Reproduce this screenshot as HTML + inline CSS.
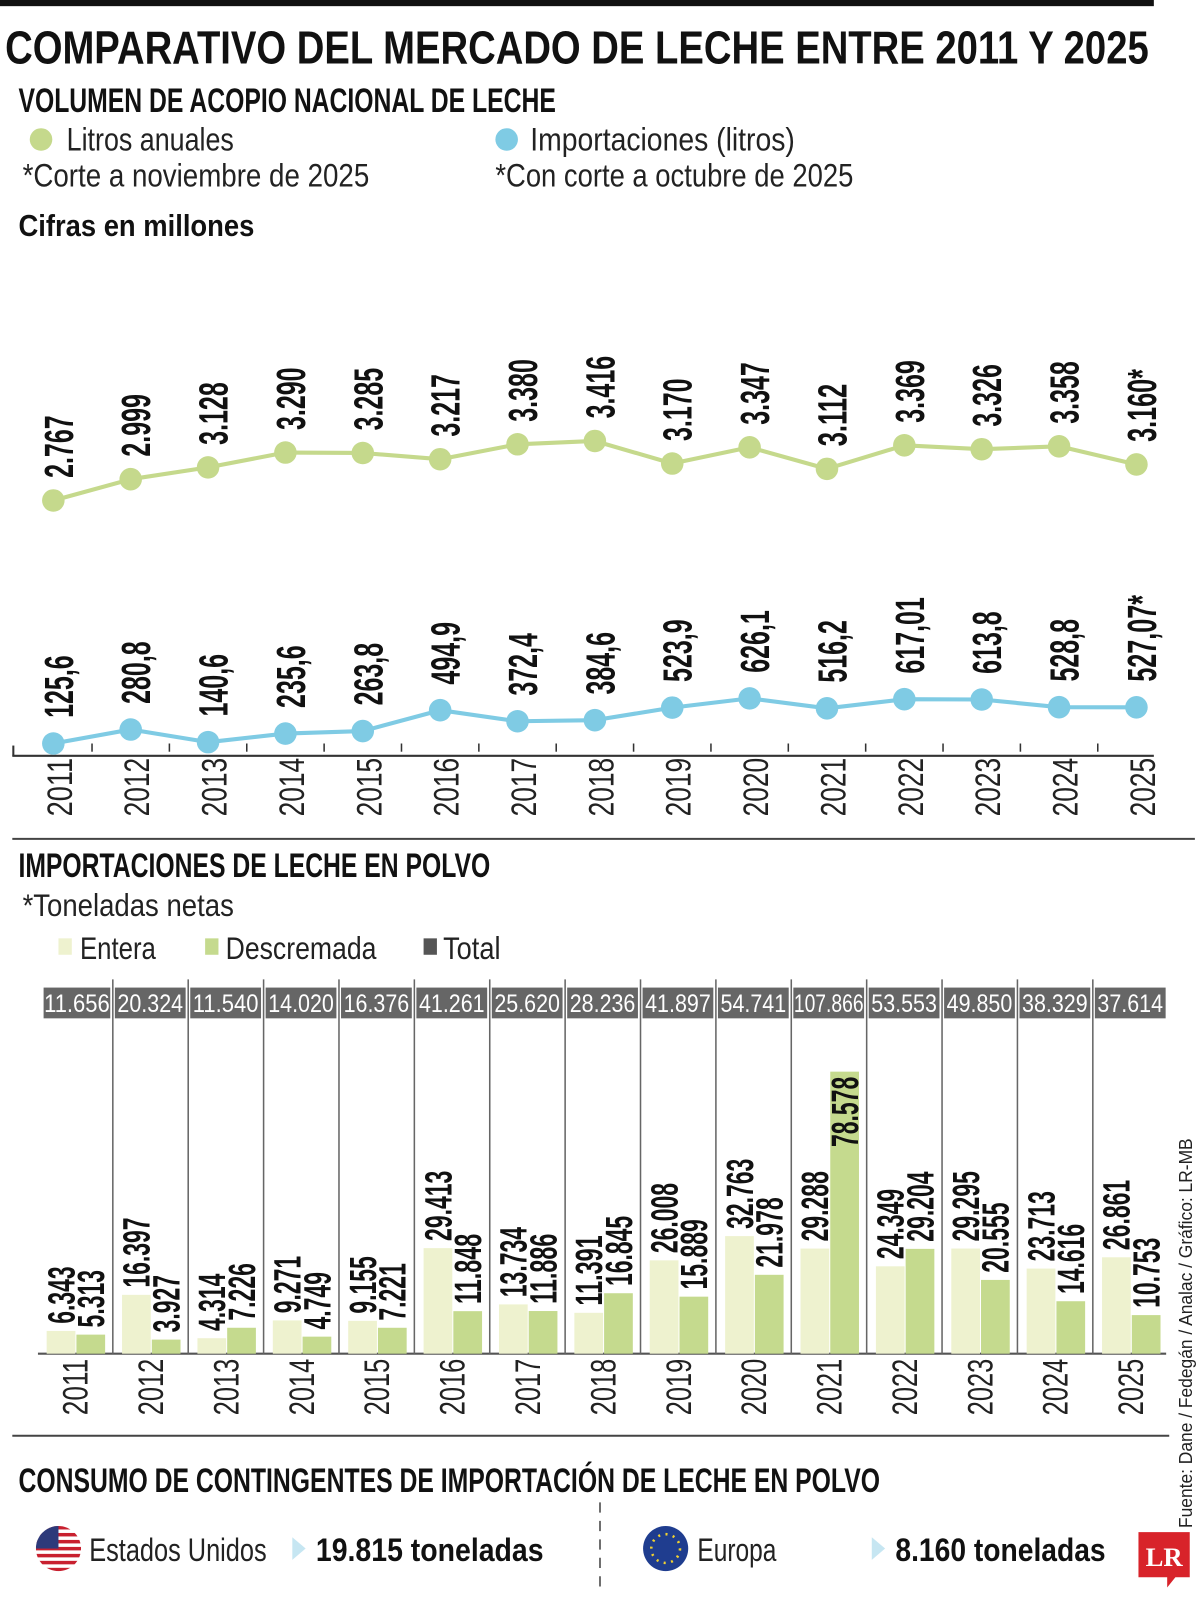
<!DOCTYPE html>
<html><head><meta charset="utf-8"><style>
html,body{margin:0;padding:0;background:#fff;}
svg{display:block;font-family:"Liberation Sans",sans-serif;}
</style></head><body>
<svg id="chart" width="1200" height="1607" viewBox="0 0 1170 1567" preserveAspectRatio="none" xmlns="http://www.w3.org/2000/svg">
<rect x="0" y="0" width="1125" height="6" fill="#111"/>
<text x="5" y="62" font-size="45" font-weight="bold" textLength="1115" lengthAdjust="spacingAndGlyphs" fill="#111">COMPARATIVO DEL MERCADO DE LECHE ENTRE 2011 Y 2025</text>
<text x="18" y="109" font-size="33" font-weight="bold" textLength="524" lengthAdjust="spacingAndGlyphs" fill="#111">VOLUMEN DE ACOPIO NACIONAL DE LECHE</text>
<circle cx="40" cy="136" r="11" fill="#c5d98c"/>
<text x="65" y="147" font-size="32" textLength="163" lengthAdjust="spacingAndGlyphs" fill="#222">Litros anuales</text>
<text x="22" y="182" font-size="32" textLength="338" lengthAdjust="spacingAndGlyphs" fill="#222">*Corte a noviembre de 2025</text>
<circle cx="494" cy="136" r="11" fill="#7fcbe4"/>
<text x="517" y="147" font-size="32" textLength="258" lengthAdjust="spacingAndGlyphs" fill="#222">Importaciones (litros)</text>
<text x="483" y="182" font-size="32" textLength="349" lengthAdjust="spacingAndGlyphs" fill="#222">*Con corte a octubre de 2025</text>
<text x="18" y="230" font-size="30" font-weight="bold" textLength="230" lengthAdjust="spacingAndGlyphs" fill="#111">Cifras en millones</text>
<g id="lineChart"></g>
<line x1="12" y1="818" x2="1165" y2="818" stroke="#444" stroke-width="2"/>
<text x="18" y="855" font-size="33" font-weight="bold" textLength="460" lengthAdjust="spacingAndGlyphs" fill="#111">IMPORTACIONES DE LECHE EN POLVO</text>
<text x="22" y="893" font-size="31" textLength="206" lengthAdjust="spacingAndGlyphs" fill="#222">*Toneladas netas</text>
<rect x="57" y="915" width="13" height="16" fill="#eef2cf"/>
<text x="78" y="935" font-size="31" textLength="74" lengthAdjust="spacingAndGlyphs" fill="#222">Entera</text>
<rect x="200" y="915" width="13" height="16" fill="#c5da8e"/>
<text x="220" y="935" font-size="31" textLength="147" lengthAdjust="spacingAndGlyphs" fill="#222">Descremada</text>
<rect x="413" y="915" width="13" height="16" fill="#555"/>
<text x="432" y="935" font-size="31" textLength="56" lengthAdjust="spacingAndGlyphs" fill="#222">Total</text>
<g id="barChart"></g>
<line x1="12" y1="1400" x2="1140" y2="1400" stroke="#444" stroke-width="2"/>
<text x="18" y="1455" font-size="33" font-weight="bold" textLength="840" lengthAdjust="spacingAndGlyphs" fill="#111">CONSUMO DE CONTINGENTES DE IMPORTACIÓN DE LECHE EN POLVO</text>
<g>
<clipPath id="usc"><circle cx="57" cy="1510" r="22"/></clipPath>
<g clip-path="url(#usc)">
<rect x="35" y="1488" width="44" height="44" fill="#fff"/>
<rect x="35" y="1488" width="44" height="3.4" fill="#c8202f"/><rect x="35" y="1494.8" width="44" height="3.4" fill="#c8202f"/><rect x="35" y="1501.6" width="44" height="3.4" fill="#c8202f"/><rect x="35" y="1508.4" width="44" height="3.4" fill="#c8202f"/><rect x="35" y="1515.2" width="44" height="3.4" fill="#c8202f"/><rect x="35" y="1522" width="44" height="3.4" fill="#c8202f"/><rect x="35" y="1528.8" width="44" height="3.4" fill="#c8202f"/>
<rect x="35" y="1488" width="22" height="22" fill="#2d3a7a"/>
</g></g>
<text x="87" y="1522" font-size="32" textLength="173" lengthAdjust="spacingAndGlyphs" fill="#222">Estados Unidos</text>
<polygon points="285,1499 298,1510 285,1521" fill="#c6e6f2"/>
<text x="308" y="1522" font-size="32" font-weight="bold" textLength="222" lengthAdjust="spacingAndGlyphs" fill="#111">19.815 toneladas</text>
<line x1="585" y1="1465" x2="585" y2="1555" stroke="#444" stroke-width="1.5" stroke-dasharray="10,8"/>
<circle cx="649" cy="1510" r="22" fill="#1f3d8f"/>
<circle cx="649" cy="1510" r="14" fill="none" stroke="#f2d230" stroke-width="2.5" stroke-dasharray="2,5.3"/>
<text x="680" y="1522" font-size="32" textLength="77" lengthAdjust="spacingAndGlyphs" fill="#222">Europa</text>
<polygon points="850,1499 863,1510 850,1521" fill="#c6e6f2"/>
<text x="873" y="1522" font-size="32" font-weight="bold" textLength="205" lengthAdjust="spacingAndGlyphs" fill="#111">8.160 toneladas</text>
<g>
<path d="M1110 1494 h50 v44 h-14 l-8 10 v-10 h-28 z" fill="#d8232a"/>
<text x="1135" y="1527" font-family="Liberation Serif,serif" font-size="26" font-weight="bold" fill="#fff" text-anchor="middle">LR</text>
</g>
<text transform="translate(1162,1490) rotate(-90)" font-size="18" textLength="380" lengthAdjust="spacingAndGlyphs" fill="#222">Fuente: Dane / Fedegán / Analac / Gráfico: LR-MB</text>
</svg>
<script>
const years = ["2011","2012","2013","2014","2015","2016","2017","2018","2019","2020","2021","2022","2023","2024","2025"];
const litros = [2767,2999,3128,3290,3285,3217,3380,3416,3170,3347,3112,3369,3326,3358,3160];
const litrosLabels = ["2.767","2.999","3.128","3.290","3.285","3.217","3.380","3.416","3.170","3.347","3.112","3.369","3.326","3.358","3.160*"];
const importaciones = [125.6,280.8,140.6,235.6,263.8,494.9,372.4,384.6,523.9,626.1,516.2,617.01,613.8,528.8,527.07];
const importLabels = ["125,6","280,8","140,6","235,6","263,8","494,9","372,4","384,6","523,9","626,1","516,2","617,01","613,8","528,8","527,07*"];
const entera = [6343,16397,4314,9271,9155,29413,13734,11391,26008,32763,29288,24349,29295,23713,26861];
const descremada = [5313,3927,7226,4749,7221,11848,11886,16845,15889,21978,78578,29204,20555,14616,10753];
const enteraLabels = ["6.343","16.397","4.314","9.271","9.155","29.413","13.734","11.391","26.008","32.763","29.288","24.349","29.295","23.713","26.861"];
const descLabels = ["5.313","3.927","7.226","4.749","7.221","11.848","11.886","16.845","15.889","21.978","78.578","29.204","20.555","14.616","10.753"];
const totalLabels = ["11.656","20.324","11.540","14.020","16.376","41.261","25.620","28.236","41.897","54.741","107.866","53.553","49.850","38.329","37.614"];

const NS = "http://www.w3.org/2000/svg";
function mk(parent, tag, attrs, txt){const e=document.createElementNS(NS,tag);for(const k in attrs)e.setAttribute(k,attrs[k]);if(txt!==undefined)e.textContent=txt;parent.appendChild(e);return e;}
function labLen(s,d,p){let l=0;for(const c of s){l+=(c==='.'||c===',')?p:(c==='*'?10:d);}return l;}

// line chart
const lc = document.getElementById('lineChart');
const xL = i => 52 + i*75.43;
const yG = v => 430 + (3416 - v)*0.0894;
const yB = v => 725 - (v - 125.6)*0.0879;
const axis = mk(lc,'line',{x1:12,y1:737,x2:1125,y2:737,stroke:'#333','stroke-width':2});


const lt = mk(lc,'line',{x1:13,y1:737,x2:13,y2:727,stroke:'#333','stroke-width':2});


function drawSeries(vals, yf, color, labels, off, name){
  const pts = vals.map((v,i)=>xL(i)+','+yf(v)).join(' ');
  const pl = mk(lc,'polyline',{points:pts,fill:'none',stroke:color,'stroke-width':4,'stroke-linejoin':'round'});
  
  
  vals.forEach((v,i)=>{
    const c = mk(lc,'circle',{cx:xL(i),cy:yf(v),r:11,fill:color});
    
    
    const x=xL(i)+19, y=yf(v)-off;
    const t = mk(lc,'text',{transform:`translate(${x},${y}) rotate(-90)`,'font-size':40,'font-weight':'bold',fill:'#111',textLength:labLen(labels[i],13.5,7),lengthAdjust:'spacingAndGlyphs'},labels[i]);
    
    
  });
}
years.forEach((y,i)=>{
  if(i>0){const tk=mk(lc,'line',{x1:xL(i)-37.7,y1:725,x2:xL(i)-37.7,y2:733,stroke:'#333','stroke-width':1.5});
  
  }
  const t=mk(lc,'text',{transform:`translate(${xL(i)+18},796) rotate(-90)`,'font-size':34,fill:'#222',textLength:57,lengthAdjust:'spacingAndGlyphs'},y);
  
  
});
drawSeries(litros,yG,'#c5d98c',litrosLabels,22,'litros');
drawSeries(importaciones,yB,'#7fcbe4',importLabels,25,'importaciones');

// bar chart
const bc = document.getElementById('barChart');
const colL = i => 36.5 + i*73.5;
const base = 1320;
const hB = v => v*0.0035;
const bl = mk(bc,'line',{x1:37,y1:base,x2:1137,y2:base,stroke:'#555','stroke-width':2});


years.forEach((y,i)=>{
  const L=colL(i);
  if(i>0){const vl=mk(bc,'line',{x1:L,y1:955,x2:L,y2:base,stroke:'#666','stroke-width':1.5});
  
  }
  const box=mk(bc,'rect',{x:L+(i===0?6:2),y:963,width:i===0?65:69,height:30,fill:'#666'});
  
  
  const tt=mk(bc,'text',{x:L+(i===0?38.5:36.5),y:987,'font-size':24,fill:'#fff','text-anchor':'middle',textLength:totalLabels[i].length>6?68:64,lengthAdjust:'spacingAndGlyphs'},totalLabels[i]);
  
  
  const ex=L+9, dx=L+38;
  const eh=hB(entera[i]), dh=hB(descremada[i]);
  const eb=mk(bc,'rect',{x:ex,y:base-eh,width:28,height:eh,fill:'#eef2cf'});
  
  
  const db=mk(bc,'rect',{x:dx,y:base-dh,width:28,height:dh,fill:'#c5da8e'});
  
  
  const el=mk(bc,'text',{transform:`translate(${ex+27},${base-eh-7}) rotate(-90)`,'font-size':37,'font-weight':'bold',fill:'#111',textLength:labLen(enteraLabels[i],12.5,6),lengthAdjust:'spacingAndGlyphs'},enteraLabels[i]);
  
  
  const dLen=labLen(descLabels[i],12.5,6);
  const inside = base-dh-7-dLen < 1000;
  const dy = inside ? base-dh+5+dLen : base-dh-7;
  const dl=mk(bc,'text',{transform:`translate(${dx+27},${dy}) rotate(-90)`,'font-size':37,'font-weight':'bold',fill:'#111',textLength:dLen,lengthAdjust:'spacingAndGlyphs'},descLabels[i]);
  
  
  const yl=mk(bc,'text',{transform:`translate(${L+49},1380) rotate(-90)`,'font-size':34,fill:'#222',textLength:55,lengthAdjust:'spacingAndGlyphs'},y);
  
  
});
</script>
</body></html>
